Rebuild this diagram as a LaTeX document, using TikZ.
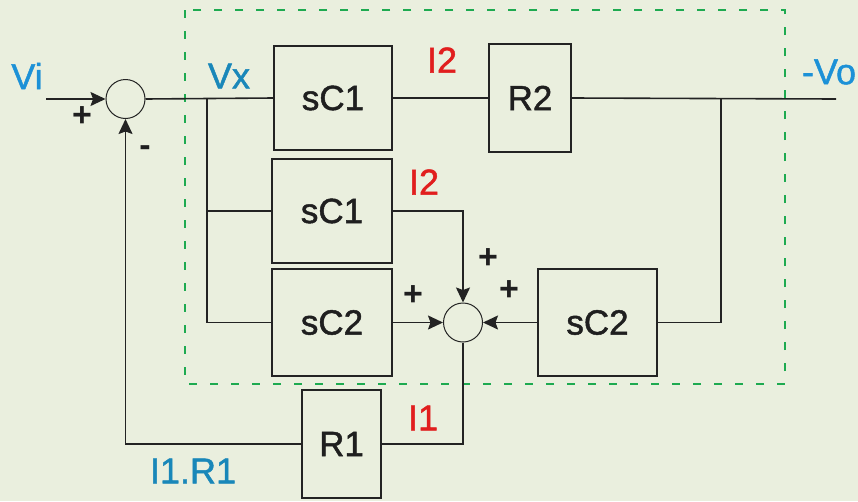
\documentclass[tikz,border=0pt]{standalone}
\usepackage{fontspec}
\setmainfont{Liberation Sans}
\newfontfamily\semib[FakeBold=1.3]{Liberation Sans}
\usetikzlibrary{arrows.meta}
\definecolor{bgc}{RGB}{234,239,222}
\definecolor{dashg}{RGB}{30,170,80}
\definecolor{lblue}{RGB}{28,145,215}
\definecolor{tblue}{RGB}{25,135,185}
\definecolor{lred}{RGB}{225,30,30}
\definecolor{lnc}{RGB}{35,35,35}
\tikzset{
  blk/.style={draw=lnc, line width=1.6pt, rectangle, inner sep=0pt, font=\semib\fontsize{35}{40}\selectfont, text=black!88},
  sumc/.style={draw=lnc, line width=1pt, circle, minimum size=39pt, inner sep=0pt},
  wire/.style={draw=lnc, line width=1.6pt},
  arr/.style={wire, -{Stealth[length=15pt,width=14pt,inset=2.5pt,fill=lnc]}},
  lbl/.style={inner sep=0pt, font=\semib\fontsize{36}{40}\selectfont},
  sgn/.style={inner sep=0pt, font=\bfseries\fontsize{34}{38}\selectfont, text=black!88},
}
\begin{document}
\begin{tikzpicture}[x=1pt,y=-1pt]
\fill[bgc] (0,0) rectangle (858,501);
\useasboundingbox (0,0) rectangle (858,501);
% dashed boundary
\draw[dashg, line width=2pt, dash pattern=on 8pt off 13pt] (185,10) rectangle (785,384);
% blocks
\node[blk, minimum width=118pt, minimum height=104pt] (sC1a) at (333,98) {sC1};
\node[blk, minimum width=82pt, minimum height=108pt] (R2) at (530,98) {R2};
\node[blk, minimum width=120pt, minimum height=104pt] (sC1b) at (332,211) {sC1};
\node[blk, minimum width=120pt, minimum height=107pt] (sC2a) at (332,322.5) {sC2};
\node[blk, minimum width=119pt, minimum height=107pt] (sC2b) at (597.5,322.5) {sC2};
\node[blk, minimum width=79pt, minimum height=108pt] (R1) at (341.5,444) {R1};
\node[sumc] (s1) at (125.5,99) {};
\node[sumc] (s2) at (463,322.5) {};
% coordinates
\coordinate (vi) at (46,99);
\coordinate (j) at (207,99);
\coordinate (k) at (721,99);
\coordinate (vo) at (836,99);
% connectors
\draw[arr] (vi) -- (s1.west);
\draw[wire] (s1.east) -- (sC1a.west);
\draw[wire] (j) |- (sC1b.west);
\draw[wire] (j) |- (sC2a.west);
\draw[wire] (sC1a.east) -- (R2.west);
\draw[wire] (R2.east) -- (vo);
\draw[wire] (k) |- (sC2b.east);
\draw[arr] (sC1b.east) -| (s2.north);
\draw[arr] (sC2a.east) -- (s2.west);
\draw[arr] (sC2b.west) -- (s2.east);
\draw[wire] (s2.south) |- (R1.east);
\draw[arr] (R1.west) -| (s1.south);
% labels
\node[lbl, text=lblue] (tVi) at (27,76) {Vi};
\node[lbl, text=tblue] (tVx) at (229,76) {Vx};
\node[lbl, text=lblue] (tVo) at (829,72) {-Vo};
\node[lbl, text=tblue] (tIR) at (193,471) {I1.R1};
\node[lbl, text=lred] (tI2a) at (442,60) {I2};
\node[lbl, text=lred] (tI2b) at (424,182) {I2};
\node[lbl, text=lred] (tI1) at (423,418) {I1};
\node[sgn] (p1) at (82,117) {+};
\node[sgn] (m1) at (145,151) {-};
\node[sgn] (p2) at (413,296) {+};
\node[sgn] (p3) at (488,259) {+};
\node[sgn] (p4) at (509,291) {+};
\end{tikzpicture}
\end{document}
